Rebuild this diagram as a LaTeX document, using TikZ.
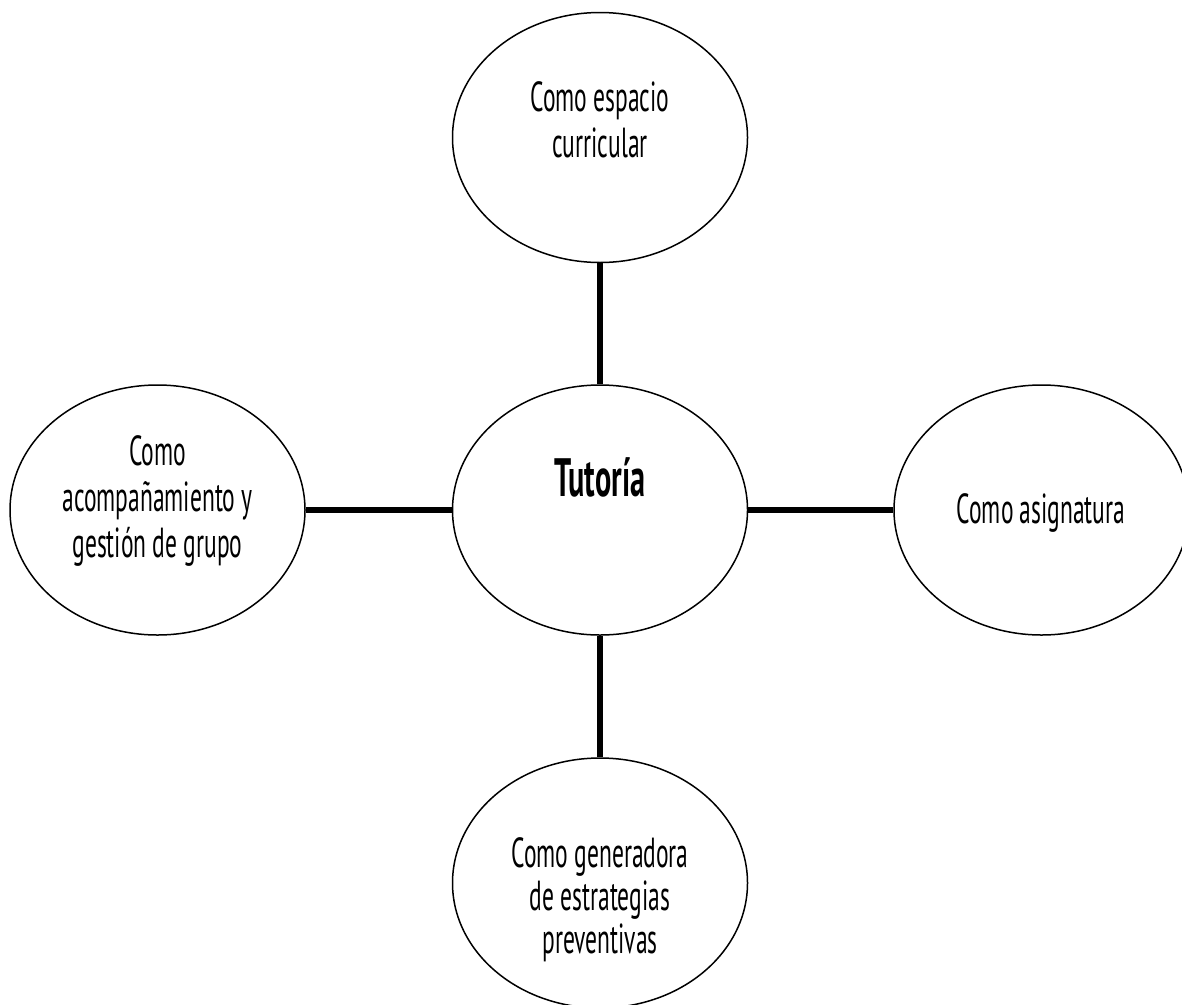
\documentclass[tikz,border=0pt]{standalone}
\usepackage{fontspec}
\setmainfont[FakeStretch=0.56]{PT Sans}
\usetikzlibrary{shapes.geometric}
\begin{document}
\begin{tikzpicture}[x=1pt,y=-1pt,
  bubble/.style={ellipse,draw,line width=1.5pt,minimum width=295pt,minimum height=250pt,inner sep=0pt},
  label/.style={align=center,font=\fontsize{42}{46}\selectfont,anchor=base,inner sep=0pt},
  link/.style={line width=5.5pt}]
\useasboundingbox (0,0) rectangle (1182,1004);
\clip (0,0) rectangle (1182,1004);
\node[bubble] (top) at (600,137.5) {};
\node[bubble] (mid) at (600,510) {};
\node[bubble] (left) at (157.5,510) {};
\node[bubble] (right) at (1041.5,510) {};
\node[bubble] (bot) at (600,883) {};
\node[label] (ttop) at (600,157) {Como espacio\\curricular};
\node[label,font=\fontsize{54}{60}\selectfont\bfseries] (tmid) at (600,496) {Tutoría};
\node[label] (tleft) at (157.5,557) {Como\\acompañamiento y\\gestión de grupo};
\node[label] (tright) at (1041,523) {Como asignatura};
\node[label,font=\fontsize{42}{43}\selectfont] (tbot) at (600,953) {Como generadora\\de estrategias\\preventivas};
\draw[link] (top) -- (mid);
\draw[link] (mid) -- (bot);
\draw[link] (left) -- (mid);
\draw[link] (mid) -- (right);
\end{tikzpicture}
\end{document}
